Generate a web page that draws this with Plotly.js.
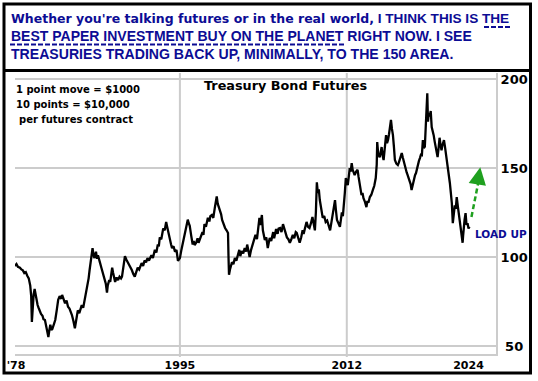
<!DOCTYPE html>
<html>
<head>
<meta charset="utf-8">
<script src="https://cdn.plot.ly/plotly-3.0.1.min.js"></script>
<style>html,body{margin:0;padding:0;background:#fff;}#chart{width:538px;height:381px;}</style>
</head>
<body>
<div id="chart"></div>
<script>
// ---- data ----
const years = [
1978.20,1978.35,1978.5,1978.7,1978.85,1979.0,1979.15,1979.3,1979.45,1979.6,1979.75,1979.85,1979.92,1980.0,1980.1,1980.2,1980.3,1980.4,1980.5,1980.6,1980.7,1980.85,1981.0,1981.1,1981.25,1981.4,1981.5,1981.6,1981.7,1981.8,1981.9,1982.0,1982.15,1982.3,1982.45,1982.6,1982.75,1982.9,1983.0,1983.15,1983.3,1983.45,1983.6,1983.75,1983.9,1984.0,1984.15,1984.3,1984.45,1984.6,1984.75,1984.9,1985.0,1985.15,1985.3,1985.45,1985.6,1985.7,1985.8,1985.95,1986.05,1986.1,1986.2,1986.3,1986.45,1986.55,1986.65,1986.75,1986.85,1987.0,1987.15,1987.3,1987.45,1987.57,1987.65,1987.8,1987.9,1988.0,1988.1,1988.2,1988.3,1988.4,1988.55,1988.7,1988.85,1989.0,1989.1,1989.2,1989.3,1989.4,1989.55,1989.7,1989.85,1990.0,1990.1,1990.25,1990.4,1990.55,1990.7,1990.85,1991.0,1991.1,1991.25,1991.4,1991.55,1991.7,1991.85,1992.0,1992.1,1992.25,1992.35,1992.45,1992.6,1992.75,1992.85,1992.95,1993.1,1993.2,1993.3,1993.45,1993.6,1993.7,1993.8,1993.9,1994.0,1994.1,1994.2,1994.35,1994.5,1994.65,1994.8,1994.9,1995.0,1995.15,1995.3,1995.45,1995.6,1995.7,1995.8,1995.9,1996.0,1996.15,1996.3,1996.4,1996.5,1996.65,1996.8,1996.9,1997.0,1997.15,1997.3,1997.4,1997.5,1997.65,1997.85,1998.0,1998.1,1998.25,1998.4,1998.55,1998.65,1998.75,1998.85,1998.95,1999.1,1999.2,1999.3,1999.45,1999.6,1999.75,1999.9,1999.95,2000.0,2000.1,2000.2,2000.3,2000.45,2000.6,2000.75,2000.9,2001.05,2001.15,2001.3,2001.45,2001.6,2001.75,2001.85,2002.0,2002.1,2002.25,2002.4,2002.55,2002.7,2002.85,2003.0,2003.1,2003.2,2003.35,2003.45,2003.55,2003.65,2003.8,2003.95,2004.05,2004.15,2004.3,2004.5,2004.6,2004.8,2004.95,2005.05,2005.2,2005.35,2005.5,2005.65,2005.8,2005.9,2006.05,2006.2,2006.35,2006.5,2006.65,2006.8,2006.9,2007.05,2007.2,2007.35,2007.5,2007.6,2007.75,2007.9,2008.05,2008.2,2008.35,2008.5,2008.62,2008.75,2008.85,2008.95,2009.05,2009.15,2009.25,2009.4,2009.55,2009.7,2009.85,2010.0,2010.15,2010.3,2010.45,2010.6,2010.7,2010.8,2010.9,2011.0,2011.15,2011.3,2011.4,2011.5,2011.6,2011.7,2011.8,2011.9,2012.0,2012.1,2012.2,2012.3,2012.4,2012.5,2012.6,2012.8,2012.95,2013.1,2013.2,2013.3,2013.4,2013.5,2013.6,2013.7,2013.85,2014.0,2014.1,2014.2,2014.35,2014.5,2014.65,2014.8,2014.95,2015.05,2015.1,2015.2,2015.35,2015.45,2015.55,2015.65,2015.75,2015.85,2016.0,2016.1,2016.2,2016.3,2016.4,2016.5,2016.6,2016.7,2016.8,2016.9,2017.05,2017.2,2017.3,2017.4,2017.5,2017.6,2017.7,2017.8,2017.9,2018.0,2018.1,2018.2,2018.3,2018.4,2018.5,2018.6,2018.72,2018.85,2018.95,2019.05,2019.15,2019.25,2019.35,2019.45,2019.55,2019.65,2019.75,2019.85,2019.95,2020.05,2020.12,2020.2,2020.27,2020.35,2020.45,2020.55,2020.65,2020.75,2020.85,2020.95,2021.05,2021.15,2021.25,2021.35,2021.45,2021.55,2021.65,2021.75,2021.9,2022.0,2022.1,2022.2,2022.3,2022.4,2022.5,2022.6,2022.7,2022.8,2022.9,2023.0,2023.1,2023.2,2023.3,2023.4,2023.5,2023.6,2023.7,2023.8,2023.85,2023.9,2024.0,2024.1,2024.2,2024.3,2024.4,2024.5
];
const prices = [
95,96,94.5,94,93,92.5,91,91.5,89.5,88,84,78,63.5,72,79,82,78,76,73,71.5,70,68,67,65,64.6,60,57,55,59,62,59,59.5,62,64.6,70,76,78,76.5,78.7,76,74,75.5,72,71,69,67.4,64,60,65,70,68.5,72,73,71.5,76,79,84,88,92.7,98,102,105,101,99.4,103,99,101,98,97,94,90,88,85,80,84,87,86,90,94,91,88,86,88.5,87,89,88,89,93,97,100.5,98.5,97,95,93.5,92.7,90.5,89,91.5,94,93,95.5,96.6,95,98,97,99.4,98,100,101,99.5,103,104,102.5,107,106,111,110,114,116,115,119.7,117,114,112,109.6,107,105,106,103,104,97.8,99,99.4,104,108,111,115,118,121,119,117.5,112,107,109,106.7,108,110.5,108,109.6,111,114,112.5,118.5,117,122,120,123,123.6,122,127.5,130,134,130,128,126.4,124,120.8,118,116.3,115,113.5,100,90,93,95,97,96,99.4,98,101,104,100.5,103.4,102,105,103,107,103,100,104,106.7,109,112.4,110,117,122,118,123.6,115,112,109.6,111,105,108,110.7,109,114,110.5,115.7,113,116,116.3,114,118.5,116,113,111,110,108,110,112.4,110.5,114,113.5,111,108,111,115,113,117,119.7,117,116.3,119,122.5,119,115,125,142,136,138,132,127,122,123,119.7,120.5,117,115,120,125,129,132,126,120.8,119,117,121,125,123,128,136,144.4,142,140.4,145,150,148,152.8,149,146,148,149,145,142,138,134.8,136,133,131,128,131.5,130.5,133.7,135,137.6,140,144.4,152,164.6,158,156,159,161.8,157,154.5,160,168.5,164,165.7,169,173,177,172,168.5,162,154.5,152.5,151.7,153,154.5,156,158.4,156,153.4,152,150,147.5,146,144.5,143.3,141,137.6,141,144.4,146,147.2,150,151.7,154,155.6,157.5,157.3,165.7,161.2,162,174,180,192,176,181,179,182,173,171,168.5,165,161.8,158,156.2,161,167,163,160,163,165.7,162,158.4,154,150.5,146,141.6,136,130.3,119,125,129,127,133.7,129,124.7,121,117,113,108,112,118,121,124.7,118,119,116,117
];
const yTicks = [50, 100, 150, 200];
const yTickText = ['\u00a050', '100', '150', '200'];
const xTickVals = [1978.3, 1995, 2012, 2024.4];
const xTickText = ["'78", '1995', '2012', '2024'];
const xGridYears = [1995, 2012];
const arrowFrom = {x: 2024.7, y: 122.5};
const arrowTo = {x: 2025.6, y: 150.5};

// ---- layout helpers (pixel -> paper) ----
const L = 15, R = 496, T = 73, B = 354;
const W = R - L, H = B - T;
const px = x => (x - L) / W;
const py = y => (B - y) / H;

const blue = '#0c0c94';
const ARIAL = 'Liberation Sans, Arial, sans-serif';
const VERD = 'DejaVu Sans, Verdana, sans-serif';
const vspan = (t, s) => `<span style="font-family:'DejaVu Sans';font-size:${s}px"><b>${t}</b></span>`;
const aspan = (t, s) => `<span style="font-size:${s}px"><b>${t}</b></span>`;

const shapes = [];
xGridYears.forEach(yr => shapes.push({type: 'line', xref: 'x', yref: 'paper', x0: yr, x1: yr, y0: py(357), y1: 1, line: {color: '#cccccc', width: 2}, layer: 'below'}));
shapes.push({type: 'rect', xref: 'paper', yref: 'paper', x0: px(4), x1: px(530.5), y0: py(373), y1: py(4), line: {color: '#000', width: 3}});
shapes.push({type: 'line', xref: 'paper', yref: 'paper', x0: px(4), x1: px(530.5), y0: py(70.5), y1: py(70.5), line: {color: '#000', width: 3}});
shapes.push({type: 'line', xref: 'paper', yref: 'paper', x0: px(484), x1: px(510), y0: py(27), y1: py(27), line: {color: blue, width: 2, dash: '5px,2px'}});
shapes.push({type: 'line', xref: 'paper', yref: 'paper', x0: px(10), x1: px(345), y0: py(44.5), y1: py(44.5), line: {color: blue, width: 2, dash: '5px,2px'}});
shapes.push({type: 'line', xref: 'x', yref: 'y', x0: arrowFrom.x, y0: arrowFrom.y, x1: arrowTo.x, y1: arrowTo.y - 3, line: {color: '#1fa01f', width: 2.5, dash: '5px,3px'}});

const annotations = [
  {xref: 'paper', yref: 'paper', x: px(9), y: py(18), xanchor: 'left', yanchor: 'middle', showarrow: false,
   text: vspan("Whether you're talking futures or in the real world,", 12.5) + aspan(' I THINK THIS IS THE', 13.6), font: {family: ARIAL, size: 13.6, color: blue}},
  {xref: 'paper', yref: 'paper', x: px(9), y: py(36), xanchor: 'left', yanchor: 'middle', showarrow: false,
   text: '<b>BEST PAPER INVESTMENT BUY ON THE PLANET RIGHT NOW. I SEE</b>', font: {family: ARIAL, size: 14, color: blue}},
  {xref: 'paper', yref: 'paper', x: px(9), y: py(54), xanchor: 'left', yanchor: 'middle', showarrow: false,
   text: '<b>TREASURIES TRADING BACK UP, MINIMALLY, TO THE 150 AREA.</b>', font: {family: ARIAL, size: 14.1, color: blue}},
  {xref: 'paper', yref: 'paper', x: px(285), y: py(85), xanchor: 'center', yanchor: 'middle', showarrow: false,
   text: '<b>Treasury Bond Futures</b>', font: {family: VERD, size: 12.8, color: '#000'}},
  {xref: 'paper', yref: 'paper', x: px(14), y: py(89), xanchor: 'left', yanchor: 'middle', showarrow: false,
   text: '<b>1 point move = $1000</b>', font: {family: VERD, size: 10, color: '#000'}},
  {xref: 'paper', yref: 'paper', x: px(14), y: py(104), xanchor: 'left', yanchor: 'middle', showarrow: false,
   text: '<b>10 points = $10,000</b>', font: {family: VERD, size: 10, color: '#000'}},
  {xref: 'paper', yref: 'paper', x: px(17), y: py(119.5), xanchor: 'left', yanchor: 'middle', showarrow: false,
   text: '<b>per futures contract</b>', font: {family: VERD, size: 10, color: '#000'}},
  {xref: 'paper', yref: 'paper', x: px(473), y: py(234), xanchor: 'left', yanchor: 'middle', showarrow: false,
   text: '<b>LOAD UP</b>', font: {family: VERD, size: 10.5, color: blue}},
  {xref: 'x', yref: 'y', axref: 'x', ayref: 'y', x: arrowTo.x, y: arrowTo.y, ax: arrowTo.x - 0.25, ay: arrowTo.y - 8,
   showarrow: true, arrowhead: 2, arrowsize: 1.4, arrowwidth: 2.5, arrowcolor: '#1fa01f', text: ''}
];

const trace = {
  x: years, y: prices, type: 'scatter', mode: 'lines',
  line: {color: '#000', width: 2.3}, hoverinfo: 'skip'
};

const layout = {
  width: 538, height: 381,
  margin: {l: L, r: 538 - R, t: T, b: 381 - B, pad: 0},
  paper_bgcolor: '#fff', plot_bgcolor: '#fff',
  showlegend: false,
  xaxis: {
    range: [1978.2, 2027.2], tickvals: xTickVals, ticktext: xTickText,
    showgrid: false, zeroline: false, showline: true, linecolor: '#cccccc', linewidth: 2,
    ticks: '', ticklen: 0,
    tickfont: {family: VERD, size: 11, color: '#000', weight: 'bold'}
  },
  yaxis: {
    range: [45.5, 203.4], side: 'right', tickvals: yTicks, ticktext: yTickText,
    showgrid: true, gridcolor: '#cccccc', gridwidth: 2, zeroline: false,
    showline: true, linecolor: '#cccccc', linewidth: 2, ticks: '',
    tickfont: {family: VERD, size: 13, color: '#000', weight: 'bold'}
  },
  shapes: shapes,
  annotations: annotations
};

Plotly.newPlot('chart', [trace], layout, {staticPlot: true, displayModeBar: false});
</script>
</body>
</html>
